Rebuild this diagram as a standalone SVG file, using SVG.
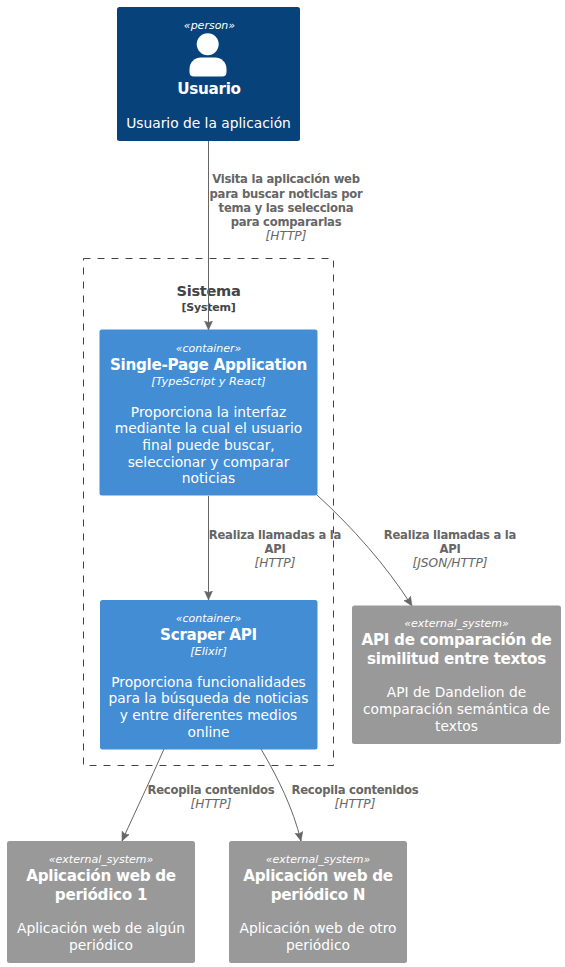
<svg xmlns="http://www.w3.org/2000/svg" width="565" height="967" viewBox="0 0 565 967">
<style>
text{font-family:"DejaVu Sans","Open Sans",sans-serif;text-anchor:middle;fill:#fff}
.st{font-size:11px;font-style:italic}
.ti{font-size:15.200px;font-weight:bold;letter-spacing:-0.300px}
.de{font-size:13.800px}
.tc{font-size:11.300px;font-style:italic}
.lb{font-size:11.600px;font-weight:bold;letter-spacing:-0.250px;fill:#666}
.lt{font-size:12.200px;font-style:italic;fill:#666}
.bt{font-size:14.600px;font-weight:bold;letter-spacing:-0.300px;fill:#444}
.bs{font-size:11px;font-weight:bold;letter-spacing:-0.250px;fill:#444}
.line{fill:none;stroke:#666;stroke-width:1}
</style>
<defs><marker id="arrow" markerUnits="userSpaceOnUse" markerWidth="10" markerHeight="10" refX="9" refY="4.500" orient="auto"><path d="M0 0.500L9 4.500L0 8.500L1.500 4.500Z" fill="#666" stroke="#666" stroke-width="0.500"/></marker></defs>
<g id="boundary">
<rect x="83.500" y="258.500" width="250" height="507" fill="none" stroke="#444" stroke-dasharray="7 7"/>
<text class="bt" x="208.500" y="296">Sistema</text>
<text class="bs" x="208.500" y="311">[System]</text>
</g>
<g id="connectors">
<path class="line" marker-end="url(#arrow)" d="M208.500 141V330"/>
<path class="line" marker-end="url(#arrow)" d="M208.500 496V600"/>
<path class="line" marker-end="url(#arrow)" d="M317 495C352 527 386 565 412 606"/>
<path class="line" marker-end="url(#arrow)" d="M164 749C150 781 136 810 122 841"/>
<path class="line" marker-end="url(#arrow)" d="M261 749C278 778 293 808 301 841"/>
<text class="lb" x="286" y="183">Visita la aplicación web</text>
<text class="lb" x="286" y="198">para buscar noticias por</text>
<text class="lb" x="286" y="212">tema y las selecciona</text>
<text class="lb" x="286" y="226">para compararlas</text>
<text class="lt" x="286" y="240">[HTTP]</text>
<text class="lb" x="275" y="539">Realiza llamadas a la</text>
<text class="lb" x="275" y="553">API</text>
<text class="lt" x="275" y="567">[HTTP]</text>
<text class="lb" x="450" y="539">Realiza llamadas a la</text>
<text class="lb" x="450" y="553">API</text>
<text class="lt" x="450" y="567">[JSON/HTTP]</text>
<text class="lb" x="211" y="794">Recopila contenidos</text>
<text class="lt" x="211" y="808">[HTTP]</text>
<text class="lb" x="355" y="794">Recopila contenidos</text>
<text class="lt" x="355" y="808">[HTTP]</text>
</g>
<g id="usuario">
<rect x="117" y="7" width="183" height="134" rx="2.500" fill="#08427B"/>
<text class="st" x="209.500" y="29">«person»</text>
<circle cx="207.700" cy="44.300" r="11" fill="#fff"/>
<path d="M189.500 72V69C189.500 62 195 57.500 201 57.500H215C221 57.500 226.500 62 226.500 69V72Q226.500 76.500 222 76.500H194Q189.500 76.500 189.500 72Z" fill="#fff"/>
<text class="ti" x="209" y="94">Usuario</text>
<text class="de" x="208.500" y="128">Usuario de la aplicación</text>
</g>
<g id="spa">
<rect x="99.500" y="329.500" width="218" height="166" rx="2.500" fill="#438DD5"/>
<text class="st" x="208.500" y="352">«container»</text>
<text class="ti" x="208.500" y="370">Single-Page Application</text>
<text class="tc" x="208.500" y="385">[TypeScript y React]</text>
<text class="de" x="208.500" y="417">Proporciona la interfaz</text>
<text class="de" x="208.500" y="433">mediante la cual el usuario</text>
<text class="de" x="208.500" y="450">final puede buscar,</text>
<text class="de" x="208.500" y="467">seleccionar y comparar</text>
<text class="de" x="208.500" y="483">noticias</text>
</g>
<g id="scraper">
<rect x="100" y="600" width="217.500" height="149.500" rx="2.500" fill="#438DD5"/>
<text class="st" x="208.500" y="622">«container»</text>
<text class="ti" x="208.500" y="640">Scraper API</text>
<text class="tc" x="208.500" y="655">[Elixir]</text>
<text class="de" x="208.500" y="687">Proporciona funcionalidades</text>
<text class="de" x="208.500" y="703">para la búsqueda de noticias</text>
<text class="de" x="208.500" y="720">y entre diferentes medios</text>
<text class="de" x="208.500" y="737">online</text>
</g>
<g id="dandelion">
<rect x="352" y="605.500" width="209" height="138.500" rx="2.500" fill="#999"/>
<text class="st" x="456.500" y="627">«external_system»</text>
<text class="ti" x="456.500" y="645">API de comparación de</text>
<text class="ti" x="456.500" y="664">similitud entre textos</text>
<text class="de" x="456.500" y="697">API de Dandelion de</text>
<text class="de" x="456.500" y="714">comparación semántica de</text>
<text class="de" x="456.500" y="731">textos</text>
</g>
<g id="periodico1">
<rect x="7" y="841" width="188" height="122" rx="2.500" fill="#999"/>
<text class="st" x="101" y="863">«external_system»</text>
<text class="ti" x="101" y="881">Aplicación web de</text>
<text class="ti" x="101" y="900">periódico 1</text>
<text class="de" x="101" y="933">Aplicación web de algún</text>
<text class="de" x="101" y="950">periódico</text>
</g>
<g id="periodicoN">
<rect x="229" y="841" width="178" height="122" rx="2.500" fill="#999"/>
<text class="st" x="318" y="863">«external_system»</text>
<text class="ti" x="318" y="881">Aplicación web de</text>
<text class="ti" x="318" y="900">periódico N</text>
<text class="de" x="318" y="933">Aplicación web de otro</text>
<text class="de" x="318" y="950">periódico</text>
</g>
</svg>
